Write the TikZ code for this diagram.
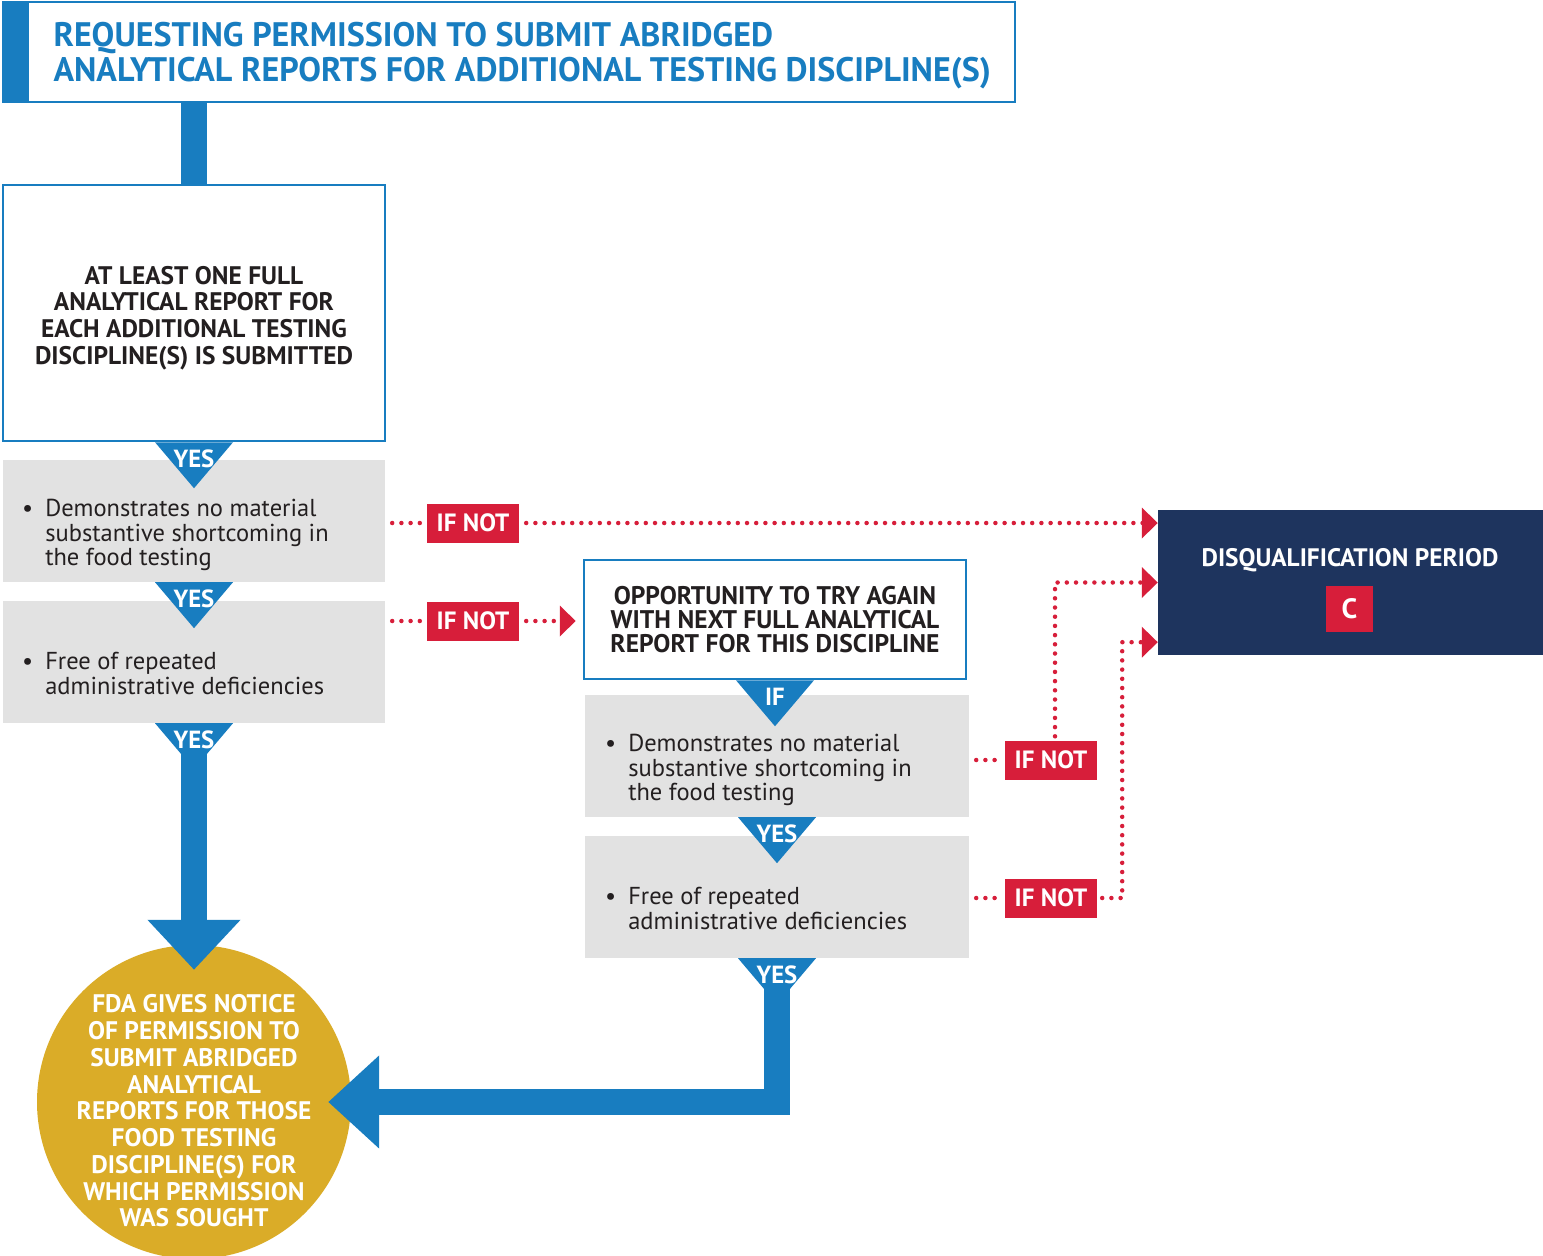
\documentclass[tikz,border=0pt]{standalone}
\usepackage{fontspec}
\setmainfont{PT Sans}
\usetikzlibrary{arrows.meta}

\definecolor{fdablue}{RGB}{24,125,192}
\definecolor{fdagrey}{RGB}{226,226,226}
\definecolor{fdared}{RGB}{215,30,58}
\definecolor{fdanavy}{RGB}{30,52,94}
\definecolor{fdagold}{RGB}{218,172,40}
\definecolor{fdaink}{RGB}{35,31,32}

\begin{document}
\begin{tikzpicture}[x=1pt, y=-1pt,
        bluebox/.style={draw=fdablue, line width=2.5pt, fill=white, inner sep=0pt},
        greybox/.style={fill=fdagrey, inner sep=0pt, minimum width=382pt, minimum height=122pt},
        heading/.style={text=fdaink, align=center, font=\fontsize{25.4}{26.7}\selectfont\bfseries},
        bullettext/.style={anchor=west, inner sep=0pt, text=fdaink, font=\fontsize{24.5}{24}\selectfont},
        ifnot/.style={fill=fdared, text=white, inner sep=0pt, minimum width=92pt, minimum height=39pt, font=\fontsize{25}{26}\selectfont\bfseries},
        yeslabel/.style={text=white, inner sep=0pt, font=\fontsize{24.8}{26}\selectfont\bfseries},
        dotline/.style={draw=fdared, line width=4.5pt, line cap=round, dash pattern=on 0pt off 9.2pt},
        redtip/.style={-{Triangle[width=30pt,length=16pt]}},
        bluepipe/.style={draw=fdablue, line width=26pt}]
        \useasboundingbox (0,0) rectangle (1543,1256);

        % Title
        \node (title) [bluebox, minimum width=1012pt, minimum height=100pt] at (509,52) {};
        \fill[fdablue] (3,2) rectangle (29,102);
        \node (titletext) [anchor=west, align=left, text=fdablue, font=\fontsize{34}{35}\selectfont\bfseries] at (50,56)
            {REQUESTING PERMISSION TO SUBMIT ABRIDGED\\ANALYTICAL REPORTS FOR ADDITIONAL TESTING DISCIPLINE(S)};

        % Left column
        \draw[bluepipe] (194,102) -- (194,186);
        \node (box1) [bluebox, minimum width=382pt, minimum height=256pt] at (194,313) {};
        \node (box1text) [heading] at (194,318)
            {AT LEAST ONE FULL\\ANALYTICAL REPORT FOR\\EACH ADDITIONAL TESTING\\DISCIPLINE(S) IS SUBMITTED};
        \node (grayA) [greybox] at (194,521) {};
        \node (grayB) [greybox] at (194,662) {};

        % Right column
        \node (opp) [bluebox, heading, font=\fontsize{25.5}{24}\selectfont\bfseries, minimum width=382pt, minimum height=119pt] at (775,619.5)
            {OPPORTUNITY TO TRY AGAIN\\WITH NEXT FULL ANALYTICAL\\REPORT FOR THIS DISCIPLINE};
        \node (grayC) [greybox, minimum width=384pt] at (777,756) {};
        \node (grayD) [greybox, minimum width=384pt] at (777,897) {};

        % Outcomes
        \node (circ) [circle, fill=fdagold, minimum size=314pt, inner sep=0pt] at (194,1102) {};
        \node (circtext) [heading, text=white, font=\fontsize{25.4}{26.75}\selectfont\bfseries] at (194,1111)
            {FDA GIVES NOTICE\\OF PERMISSION TO\\SUBMIT ABRIDGED\\ANALYTICAL\\REPORTS FOR THOSE\\FOOD TESTING\\DISCIPLINE(S) FOR\\WHICH PERMISSION\\WAS SOUGHT};
        \node (disq) [fill=fdanavy, inner sep=0pt, minimum width=385pt, minimum height=145pt] at (1350.5,582.5) {};
        \node (disqtext) [yeslabel, font=\fontsize{25.3}{26}\selectfont\bfseries] at (1350,560) {DISQUALIFICATION PERIOD};
        \node (cbox) [fill=fdared, text=white, inner sep=0pt, minimum width=47pt, minimum height=46pt, font=\fontsize{28}{30}\selectfont\bfseries] at (1349.5,609) {C};

        % Blue arrows
        \draw[bluepipe, -{Triangle[width=90pt,length=50pt]}, shorten >=-25pt] (grayB.south) -- (circ.north);
        \draw[bluepipe, -{Triangle[width=90pt,length=51pt]}, shorten >=-23pt] (grayD.south) |- (circ.east);

        % Yes / if markers
        \foreach \b/\w in {box1/YES, grayA/YES, grayB/YES, opp/IF, grayC/YES, grayD/YES} {
            \fill[fdablue] ([xshift=-39pt]\b.south) -- ([xshift=39pt]\b.south) -- ([yshift=-46pt]\b.south) -- cycle;
            \node (mark\b) [yeslabel] at ([yshift=-17pt]\b.south) {\w};
        }

        % Criteria
        \node (critA) [bullettext] at (22,536) {\begin{tabular}{@{}l@{\hspace{12pt}}l@{}}\textbullet & Demonstrates no material\\ & substantive shortcoming in\\ & the food testing\end{tabular}};
        \node (critB) [bullettext] at (22,677) {\begin{tabular}{@{}l@{\hspace{12pt}}l@{}}\textbullet & Free of repeated\\ & administrative deficiencies\end{tabular}};
        \node (critC) [bullettext] at (605,771) {\begin{tabular}{@{}l@{\hspace{12pt}}l@{}}\textbullet & Demonstrates no material\\ & substantive shortcoming in\\ & the food testing\end{tabular}};
        \node (critD) [bullettext] at (605,912) {\begin{tabular}{@{}l@{\hspace{12pt}}l@{}}\textbullet & Free of repeated\\ & administrative deficiencies\end{tabular}};

        % If not
        \node (ifnotA) [ifnot] at (473,523) {IF NOT};
        \node (ifnotB) [ifnot] at (473,621) {IF NOT};
        \node (ifnotC) [ifnot] at (1051,760) {IF NOT};
        \node (ifnotD) [ifnot] at (1051,898) {IF NOT};

        % Red dotted edges
        \draw[dotline, shorten <=7pt, shorten >=7pt] (grayA.east |- ifnotA.west) -- (ifnotA.west);
        \draw[dotline, redtip, shorten <=7pt] (ifnotA.east) -- (disq.west |- ifnotA.east);
        \draw[dotline, shorten <=7pt, shorten >=7pt] (grayB.east |- ifnotB.west) -- (ifnotB.west);
        \draw[dotline, redtip, shorten <=7pt, shorten >=7pt] (ifnotB.east) -- (opp.west |- ifnotB.east);
        \draw[dotline, shorten <=7pt, shorten >=5pt] (grayC.east |- ifnotC.west) -- (ifnotC.west);
        \draw[dotline, redtip, shorten <=4pt] ([xshift=4pt]ifnotC.north) |- (disq.west);
        \draw[dotline, shorten <=7pt, shorten >=5pt] (grayD.east |- ifnotD.west) -- (ifnotD.west);
        \draw[dotline, redtip, shorten <=5pt] (ifnotD.east) -- ++(25,0) |- ([yshift=13pt]disq.south west);

\end{tikzpicture}
\end{document}
